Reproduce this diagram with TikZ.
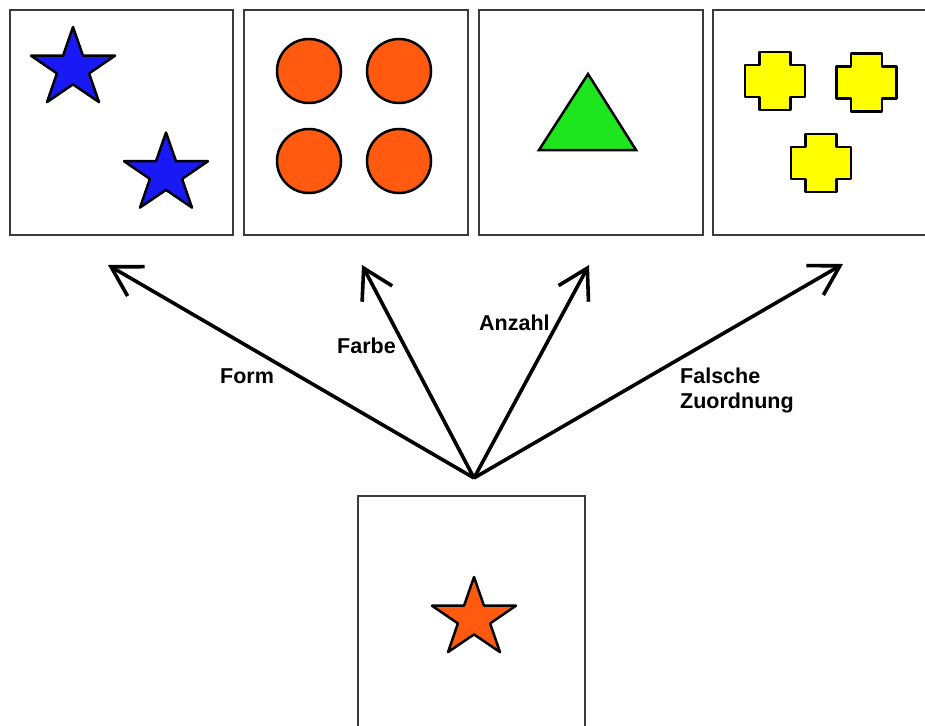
\documentclass[tikz,border=0pt]{standalone}
\usepackage{fontspec}
\setmainfont{Liberation Sans}
\usetikzlibrary{arrows.meta}
\definecolor{starblue}{RGB}{25,25,245}
\definecolor{dotorange}{RGB}{255,90,15}
\definecolor{trigreen}{RGB}{30,230,30}
\definecolor{crossyellow}{RGB}{255,255,0}
\definecolor{panelgray}{RGB}{60,60,60}
\newcommand\drawmystar[3]{%
  \draw[shapeline, fill=#3, shift={(#1,#2)}, xscale=1.065]
    (-90:41.5) -- (-54:15.9) -- (-18:41.5) -- (18:15.9) -- (54:41.5) -- (90:15.9)
    -- (126:41.5) -- (162:15.9) -- (198:41.5) -- (234:15.9) -- cycle;}
\newcommand\drawmycross[2]{%
  \draw[shapeline, fill=crossyellow, shift={(#1,#2)}]
    (-15.5,-29) -- (15.5,-29) -- (15.5,-16) -- (30,-16) -- (30,16) -- (15.5,16)
    -- (15.5,29) -- (-15.5,29) -- (-15.5,16) -- (-30,16) -- (-30,-16) -- (-15.5,-16) -- cycle;}
\begin{document}
\begin{tikzpicture}[x=1pt,y=-1pt,
  panel/.style={draw=panelgray, line width=2pt, fill=none, rectangle, inner sep=0pt},
  shapeline/.style={draw=black, line width=2.5pt, line join=round},
  pointer/.style={line width=3.6pt, -{Straight Barb[length=29pt, width=34pt, line width=3.6pt]}},
  lbl/.style={font=\bfseries\fontsize{21.5}{25}\selectfont, inner sep=0pt, anchor=base west}]
\useasboundingbox (0,0) rectangle (925,725);
\fill[white] (0,0) rectangle (925,725);
% panels
\node[panel, minimum width=223pt, minimum height=225pt] (p1) at (121.5,122.5) {};
\node[panel, minimum width=224pt, minimum height=225pt] (p2) at (356,122.5) {};
\node[panel, minimum width=224pt, minimum height=225pt] (p3) at (591,122.5) {};
\node[panel, minimum width=224pt, minimum height=225pt] (p4) at (825,122.5) {};
\node[panel, minimum width=227pt, minimum height=240pt] (p5) at (471.5,616) {};
% panel 1: blue stars
\drawmystar{73}{68.5}{starblue}
\drawmystar{166}{174}{starblue}
% panel 2: orange dots
\draw[shapeline, fill=dotorange] (309,71) circle[radius=32];
\draw[shapeline, fill=dotorange] (399,71) circle[radius=32];
\draw[shapeline, fill=dotorange] (309,161) circle[radius=32];
\draw[shapeline, fill=dotorange] (399,161) circle[radius=32];
% panel 3: green triangle
\draw[shapeline, fill=trigreen, line join=miter] (588,74) -- (636,150) -- (539,150) -- cycle;
% panel 4: yellow crosses
\drawmycross{775}{81}
\drawmycross{866.5}{82.5}
\drawmycross{821}{163}
% bottom panel: orange star
\drawmystar{474}{618.5}{dotorange}
% arrows
\coordinate (o) at (474,478);
\coordinate (t1) at (108,265);
\coordinate (t2) at (362,265);
\coordinate (t3) at (589,265);
\coordinate (t4) at (843,264);
\draw[pointer] (o) -- (t1);
\draw[pointer] (o) -- (t2);
\draw[pointer] (o) -- (t3);
\draw[pointer] (o) -- (t4);
% labels
\node[lbl] (lform) at (220,383) {Form};
\node[lbl] (lfarbe) at (337,353) {Farbe};
\node[lbl] (lanzahl) at (479,330) {Anzahl};
\node[lbl] (lfalsche) at (680,383) {Falsche};
\node[lbl] (lzuord) at (680,408) {Zuordnung};
\end{tikzpicture}
\end{document}
